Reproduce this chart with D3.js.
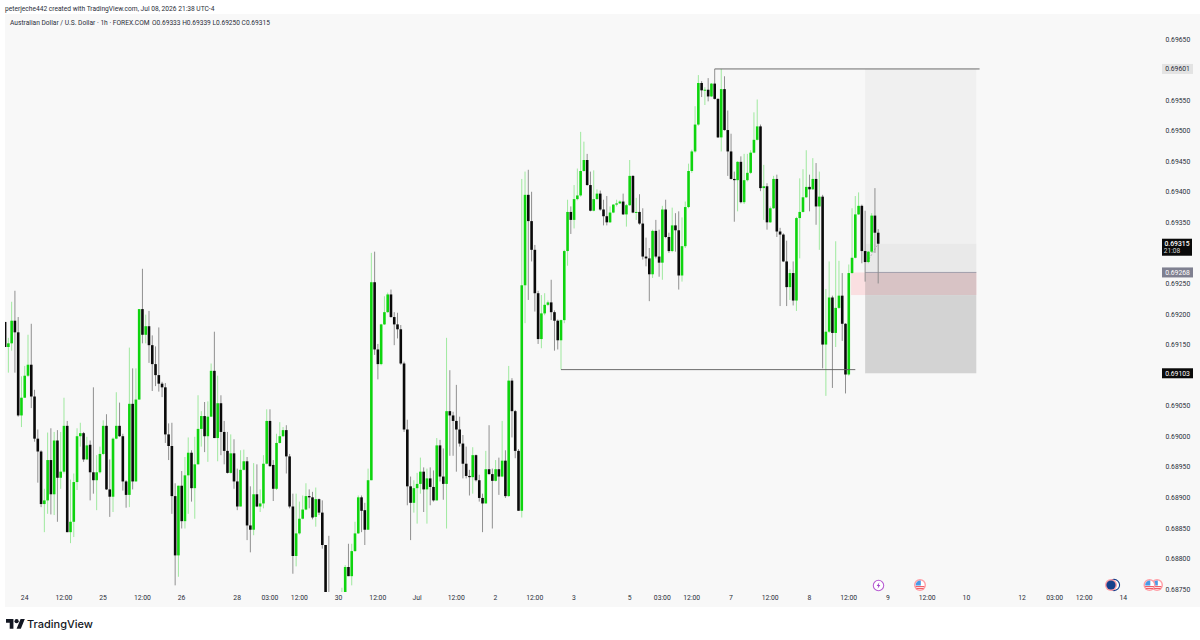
<!DOCTYPE html>
<html>
<head>
<meta charset="utf-8">
<script src="https://cdn.jsdelivr.net/npm/d3@7"></script>
<style>
  html, body { margin: 0; padding: 0; background: #fff; }
  svg { display: block; }
  text { font-family: Roboto, "Noto Sans", sans-serif; }
  .axis path, .axis line { display: none; }
  .axis text { font-size: 6.8px; fill: #2a2e39; font-family: Roboto, sans-serif; }
</style>
</head>
<body>
<svg id="chart" width="1200" height="640"></svg>
<script>
// AUD/USD hourly candles, prices in 1e-5 units (69315 = 0.69315)
const opens = [
  69187,69146,69152,69189,69170,69034,69063,69099,69117,69065,
  68996,68975,68889,68895,68961,68905,68993,68932,68942,69017,
  68843,68860,68925,69000,69005,68962,68986,68941,68928,68941,
  68971,69017,68913,68901,68996,69017,69000,68926,68904,69053,
  68926,69060,69208,69166,69180,69149,69118,69100,69086,69080,
  69003,68984,68902,68805,68919,68861,68936,68973,68915,68954,
  69012,69033,69000,69032,69107,68997,69054,69007,68976,68940,
  68972,68926,68885,68945,68959,68854,68847,68905,68885,68890,
  68955,69025,68953,68914,68989,69000,69010,68967,68885,68804,
  68841,68865,68880,68902,68900,68868,68897,68875,68822,68735,
  68700,68690,68705,68720,68745,68786,68771,68812,68841,68900,
  68879,68847,68928,69252,69142,69118,69183,69203,69232,69195,
  69183,
  69175,69119,69011,68918,68891,68915,68922,68942,68913,
  68931,68917,68895,68985,68934,68922,69041,69034,69025,69011,
  68988,68955,68935,68933,68969,68928,68899,68890,68946,68938,
  68927,68946,68934,68960,68902,69091,69041,68976,68878,69247,
  69395,69352,69305,69234,69159,69201,69215,69219,69203,69189,
  69157,69190,69303,69367,69354,69388,69394,69434,69452,69411,
  69369,69388,69397,69371,69360,69350,69366,69379,69381,69384,
  69363,69378,69426,69366,69367,69348,69294,69291,69265,69336,
  69294,69284,69371,69326,69303,69345,69337,69263,69311,69375,
  69434,69466,69510,69578,69566,69567,69556,69577,69552,69489,
  69568,69501,69466,69421,69419,69449,69383,69419,69431,69464,
  69485,69507,69406,69409,69350,69373,69421,69335,69330,69286,
  69244,69267,69222,69357,69367,69391,69408,69404,69421,69376,
  69392,69150,69171,69227,69169,69210,69230,69184,69101,69267,
  69292,69363,69377,69303,69285,69302,69361,69333
];
const highs = [
  69187,69161,69220,69238,69195,69098,69115,69166,69184,69076,
  69011,68977,68914,69006,69013,69007,69010,69007,69063,69025,
  68929,68939,69013,69022,69007,68999,68993,69080,68969,68983,
  69026,69036,68962,68998,69072,69055,69004,68928,69145,69111,
  69111,69208,69274,69199,69205,69165,69147,69178,69089,69087,
  69021,69022,68923,68919,68943,68966,68998,68977,68999,69067,
  69041,69056,69057,69119,69171,69099,69067,69025,69007,69003,
  68995,68947,68977,68978,68966,68918,68956,68954,68913,68969,
  69044,69044,68961,69004,69023,69015,69018,68971,68906,68906,
  68893,68903,68923,68913,68909,68916,68898,68895,68822,68837,
  68730,68720,68735,68752,68789,68824,68824,68860,68903,68903,
  68891,68947,69300,69302,69151,69184,69229,69235,69240,69203,
  69202,
  69182,69122,69027,68934,68928,68940,68965,68949,68947,
  68949,68944,68997,68994,68980,69161,69108,69040,69084,69032,
  69002,68983,68945,68982,68970,68937,68906,68976,69018,68947,
  68961,68965,69025,68977,69115,69095,69043,68979,69421,69433,
  69436,69400,69313,69238,69231,69234,69222,69256,69206,69191,
  69191,69305,69387,69376,69411,69438,69498,69482,69462,69433,
  69435,69404,69402,69387,69393,69376,69380,69387,69386,69397,
  69380,69452,69427,69390,69396,69373,69325,69308,69338,69354,
  69338,69377,69387,69333,69374,69365,69368,69358,69384,69446,
  69469,69540,69591,69581,69571,69586,69578,69601,69553,69601,
  69589,69533,69495,69433,69450,69458,69462,69462,69468,69530,
  69551,69510,69444,69414,69376,69426,69428,69341,69332,69320,
  69273,69286,69359,69422,69437,69468,69428,69455,69447,69433,
  69395,69241,69286,69230,69319,69287,69267,69185,69281,69373,
  69393,69399,69379,69369,69303,69365,69406,69339
];
const lows = [
  69146,69104,69140,69104,69032,69015,69063,69097,69046,68991,
  68924,68884,68843,68873,68872,68871,68860,68914,68939,68843,
  68825,68835,68912,68983,68958,68961,68895,68906,68879,68939,
  68969,68912,68868,68876,68995,68999,68911,68883,68884,68913,
  68926,69060,69152,69152,69120,69074,69082,69073,69064,68989,
  68961,68873,68756,68770,68849,68849,68873,68893,68865,68954,
  68983,68974,68958,69032,68997,68959,68969,68954,68939,68939,
  68914,68879,68885,68944,68830,68810,68838,68884,68876,68882,
  68954,68950,68894,68912,68988,68999,68939,68882,68775,68787,
  68839,68864,68879,68882,68864,68852,68871,68816,68735,68690,
  68680,68670,68690,68710,68730,68771,68756,68811,68840,68843,
  68822,68847,68928,69133,69093,69116,69182,69202,69194,69149,
  69160,
  69117,69007,68887,68830,68875,68857,68906,68876,68857,
  68887,68893,68895,68926,68896,68849,68968,68968,68942,68983,
  68931,68931,68903,68906,68926,68893,68843,68890,68937,68849,
  68926,68904,68933,68899,68901,68998,68964,68878,68867,69185,
  69223,69286,69204,69151,69144,69198,69213,69190,69140,69142,
  69109,69185,69279,69331,69340,69386,69392,69433,69410,69368,
  69368,69387,69369,69345,69345,69349,69365,69376,69380,69362,
  69343,69377,69365,69354,69346,69289,69278,69221,69259,69291,
  69261,69256,69324,69300,69301,69302,69240,69253,69308,69373,
  69431,69464,69508,69555,69542,69548,69555,69551,69488,69466,
  69500,69426,69420,69351,69368,69381,69380,69417,69429,69463,
  69484,69401,69354,69338,69349,69372,69326,69213,69285,69213,
  69223,69214,69205,69291,69366,69390,69368,69403,69346,69305,
  69111,69066,69169,69079,69146,69208,69156,69070,69099,69266,
  69291,69362,69283,69253,69283,69300,69300,69250
];
const closes = [
  69146,69152,69189,69170,69034,69063,69099,69117,69065,68996,
  68975,68889,68895,68961,68905,68993,68932,68942,69017,68843,
  68860,68925,69000,69005,68962,68985,68941,68928,68941,68971,
  69017,68913,68901,68996,69017,69000,68926,68904,69053,68926,
  69060,69208,69166,69180,69149,69118,69100,69086,69080,69003,
  68984,68902,68805,68919,68861,68936,68973,68915,68954,69012,
  69033,69000,69032,69107,68997,69054,69007,68976,68940,68972,
  68926,68885,68945,68959,68854,68847,68905,68885,68890,68955,
  69025,68951,68914,68989,69000,69010,68967,68885,68804,68841,
  68865,68880,68902,68900,68867,68897,68875,68822,68740,68700,
  68690,68705,68720,68745,68786,68771,68812,68841,68900,68878,
  68847,68928,69252,69142,69118,69183,69203,69232,69195,69183,
  69175,
  69119,69011,68918,68891,68915,68922,68942,68913,68931,
  68917,68895,68985,68934,68922,69041,69034,69025,69011,68988,
  68955,68935,68933,68969,68928,68899,68890,68946,68938,68927,
  68946,68934,68960,68902,69091,69041,68976,68878,69247,69395,
  69352,69305,69234,69159,69201,69215,69219,69203,69189,69157,
  69190,69303,69367,69354,69388,69394,69434,69452,69411,69369,
  69388,69397,69371,69360,69350,69366,69379,69381,69384,69363,
  69378,69426,69366,69367,69348,69294,69291,69265,69336,69294,
  69284,69371,69326,69303,69345,69337,69263,69311,69375,69434,
  69466,69510,69578,69566,69567,69556,69577,69552,69489,69568,
  69501,69466,69421,69419,69449,69383,69419,69431,69464,69485,
  69507,69406,69409,69350,69373,69421,69335,69330,69286,69244,
  69267,69222,69357,69367,69391,69408,69404,69421,69376,69392,
  69150,69171,69227,69169,69210,69230,69184,69101,69267,69292,
  69363,69377,69303,69285,69302,69361,69333,69315
];

// Time axis: labels and how many bars each one sits before the newest bar
const timeLabels = ["24","12:00","25","12:00","26","28","03:00","12:00","30","12:00","Jul","12:00","2","12:00","3","5","03:00","12:00","7","12:00","8","12:00","9","12:00","10","12","03:00","12:00","14"];
const timeBarsBack = [261,249,237,225,213,196,186,177,165,153,141,129,117,105,93,76,66,57,45,33,21,9,-3,-15,-27,-44,-54,-63,-75];

// Price axis ticks, leaving out those covered by the value tags
const priceTicks = [69650,69550,69500,69450,69400,69350,69250,69200,69150,69050,69000,68950,68900,68850,68800,68750];

// Long position levels and the two horizontal range lines
const targetPrice = 69601, entryPrice = 69268, stopPrice = 69103, lastPrice = 69315, tradeLow = 69231;
const rangeHigh = {price: 69601, fromBack: 50, toBack: -31};
const rangeLow = {price: 69109, fromBack: 97, toBack: 7};
const positionFromBack = 4, positionToBack = -30, pnlFromBack = 8.3;
const tradePathFrom = {back: 3.4, price: 69285};

// Value tags on the price axis
const tags = [
  {price: 69601, text: "0.69601", fill: "#e3e3e3", color: "#2a2e39"},
  {price: 69268, text: "0.69268", fill: "#7f8090", color: "#ffffff"},
  {price: 69103, text: "0.69103", fill: "#0a0a0a", color: "#ffffff"}
];
const countdown = "21:08";

const headerLine = "peterjeche442 created with TradingView.com, Jul 08, 2026 21:38 UTC-4";
const titleLine = "Australian Dollar / U.S. Dollar · 1h · FOREX.COM";
const ohlcLine = "O0.69333 H0.69339 L0.69250 C0.69315";

const bars = closes.map((c, i) => ({i, o: opens[i], h: highs[i], l: lows[i], c}));
const last = bars.length - 1;

const svg = d3.select("#chart");
const x = d3.scaleLinear().domain([last - 100, last]).range([878.2 - 327, 878.2]);
const y = d3.scaleLinear().domain([68750, 69650]).range([589, 39]);
const xBack = b => x(last - b);
const fmt = v => (v / 1e5).toFixed(5);

svg.append("defs").append("clipPath").attr("id", "pane")
  .append("rect").attr("x", 5).attr("y", 14).attr("width", 1155).attr("height", 578);

// Pane background
svg.append("rect").attr("x", 5).attr("y", 14).attr("width", 1195).attr("height", 593).attr("fill", "#f8f8f8");

// Position tool: target side, then the open-trade part, then the stop side
const zones = [
  {a: targetPrice, b: lastPrice, from: positionFromBack, fill: "#f0f0f0"},
  {a: lastPrice, b: entryPrice, from: positionFromBack, fill: "#e9e9e9"},
  {a: entryPrice, b: tradeLow, from: pnlFromBack, fill: "#fadfe1"},
  {a: entryPrice, b: tradeLow, from: positionFromBack, fill: "#d8c3c5"},
  {a: tradeLow, b: stopPrice, from: positionFromBack, fill: "#d3d3d3"}
];
svg.append("g").selectAll("rect").data(zones).join("rect")
  .attr("x", d => xBack(d.from))
  .attr("width", d => xBack(positionToBack) - xBack(d.from))
  .attr("y", d => y(d.a))
  .attr("height", d => y(d.b) - y(d.a))
  .attr("fill", d => d.fill);
svg.append("line")
  .attr("x1", xBack(positionFromBack)).attr("x2", xBack(positionToBack))
  .attr("y1", y(entryPrice)).attr("y2", y(entryPrice))
  .attr("stroke", "#9a9aa6").attr("stroke-width", 0.9);

// Dashed trace from the trade start to the latest close
svg.append("line")
  .attr("x1", xBack(tradePathFrom.back)).attr("y1", y(tradePathFrom.price))
  .attr("x2", xBack(0)).attr("y2", y(lastPrice))
  .attr("stroke", "#a8a8a8").attr("stroke-width", 0.8).attr("stroke-dasharray", "2 1.5");

// Candles
const candleG = svg.append("g").attr("clip-path", "url(#pane)");
const isUp = d => d.c >= d.o;
candleG.append("g").selectAll("line").data(bars).join("line")
  .attr("x1", d => x(d.i)).attr("x2", d => x(d.i))
  .attr("y1", d => y(d.h)).attr("y2", d => y(d.l))
  .attr("stroke", d => isUp(d) ? "#9ae89a" : "#8a8a8a")
  .attr("stroke-width", 0.95);
candleG.append("g").selectAll("rect").data(bars).join("rect")
  .attr("x", d => x(d.i) - 1.3)
  .attr("width", 2.6)
  .attr("y", d => y(Math.max(d.o, d.c)))
  .attr("height", d => Math.max(1, Math.abs(y(d.o) - y(d.c))))
  .attr("fill", d => isUp(d) ? "#0ed40e" : "#0a0a0a");

// Range lines
[rangeHigh, rangeLow].forEach(r => {
  svg.append("line")
    .attr("x1", xBack(r.fromBack)).attr("x2", xBack(r.toBack))
    .attr("y1", y(r.price)).attr("y2", y(r.price))
    .attr("stroke", "#5c5c5c").attr("stroke-width", 0.9);
});

// Price axis
const yAxis = d3.axisRight(y).tickValues(priceTicks).tickFormat(fmt).tickSize(0).tickPadding(0);
svg.append("g").attr("class", "axis").attr("transform", "translate(1165.5,0)").call(yAxis);

// Time axis
const xAxis = d3.axisBottom(x)
  .tickValues(timeBarsBack.map(b => last - b))
  .tickFormat((d, i) => timeLabels[i])
  .tickSize(0).tickPadding(0);
svg.append("g").attr("class", "axis").attr("transform", "translate(-0.6,595)").call(xAxis);

// Value tags
tags.forEach(t => {
  svg.append("rect").attr("x", 1162).attr("y", y(t.price) - 5).attr("width", 31).attr("height", 10)
    .attr("fill", t.fill);
  svg.append("text").attr("x", 1177.5).attr("y", y(t.price) + 2.4).attr("text-anchor", "middle")
    .attr("font-size", 6.8).attr("fill", t.color).text(t.text);
});
svg.append("rect").attr("x", 1162).attr("y", y(lastPrice) - 5).attr("width", 30).attr("height", 17).attr("fill", "#0a0a0a");
svg.append("text").attr("x", 1177).attr("y", y(lastPrice) + 2.4).attr("text-anchor", "middle")
  .attr("font-size", 6.8).attr("font-weight", 500).attr("fill", "#fff").text(fmt(lastPrice));
svg.append("text").attr("x", 1172).attr("y", y(lastPrice) + 9.6).attr("text-anchor", "middle")
  .attr("font-size", 6.6).attr("fill", "#d8d8d8").text(countdown);

// Header lines
svg.append("text").attr("x", 5).attr("y", 10.5).attr("font-size", 6.65).attr("fill", "#2a2e39").text(headerLine);
svg.append("text").attr("x", 10).attr("y", 24.5).attr("font-size", 6.65).attr("fill", "#2a2e39").text(titleLine);
svg.append("text").attr("x", 152).attr("y", 24.5).attr("font-size", 6.6).attr("fill", "#2a2e39").text(ohlcLine);

// Economic event markers along the time axis
function flag(g, cx, cy) {
  const f = g.append("g").attr("transform", `translate(${cx},${cy})`);
  f.append("circle").attr("r", 6).attr("fill", "#ff9ea6");
  f.append("circle").attr("r", 4.6).attr("fill", "#fff");
  f.append("rect").attr("x", -4.4).attr("y", 1).attr("width", 8.8).attr("height", 1.2).attr("fill", "#f0606a");
  f.append("rect").attr("x", -3.6).attr("y", 3).attr("width", 7.2).attr("height", 1).attr("fill", "#f0606a");
  f.append("path").attr("d", "M-4.4,0.4 A4.6,4.6 0 0 1 0.8,-4.5 L0.8,0.4 Z").attr("fill", "#4a9ae6");
}
const events = svg.append("g");
const bolt = events.append("g").attr("transform", "translate(878.5,585.5)");
bolt.append("circle").attr("r", 5.2).attr("fill", "#fff").attr("stroke", "#b95fd3").attr("stroke-width", 1.1);
bolt.append("path").attr("d", "M0.9,-3.2 L-1.8,0.6 L-0.2,0.6 L-0.9,3.2 L1.8,-0.6 L0.2,-0.6 Z").attr("fill", "#a040c8");
flag(events, 920, 585);
const dark = events.append("g").attr("transform", "translate(1111,585)");
dark.append("circle").attr("cx", 3).attr("r", 5.6).attr("fill", "#fff").attr("stroke", "#17408b").attr("stroke-width", 1.1);
dark.append("circle").attr("r", 6).attr("fill", "#ff9ea6");
dark.append("circle").attr("r", 4.6).attr("fill", "#17408b");
flag(events, 1157, 585);
flag(events, 1149.5, 585);

// Brand mark
const logo = svg.append("g").attr("transform", "translate(6,617) scale(0.53)").attr("fill", "#131722");
logo.append("path").attr("d", "M14 22H7V11H0V4h14v18zM28 22h-8l7.5-18h8L28 22z");
logo.append("circle").attr("cx", 20).attr("cy", 8).attr("r", 4);
svg.append("text").attr("x", 27).attr("y", 627.5).attr("font-size", 11).attr("font-weight", 500)
  .attr("fill", "#131722").style("font-family", "Inter, Roboto, sans-serif").text("TradingView");
</script>
</body>
</html>
